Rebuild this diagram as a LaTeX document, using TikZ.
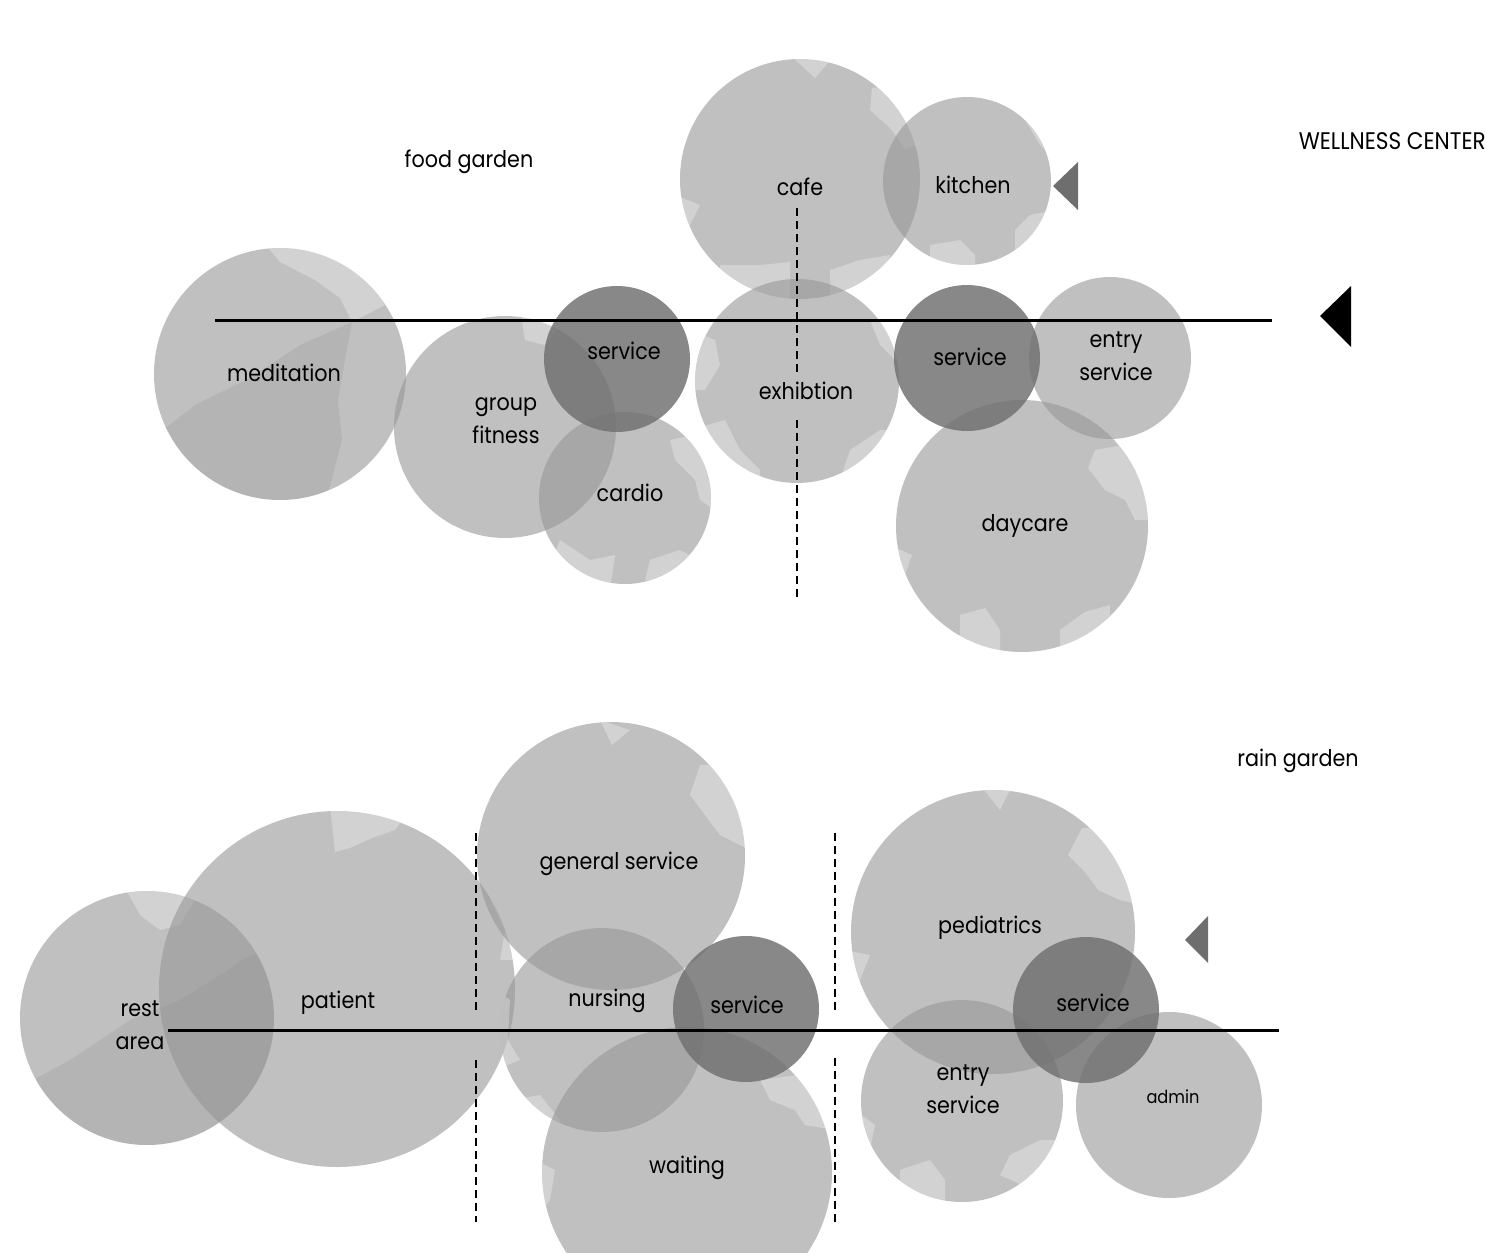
\documentclass[tikz,border=0pt]{standalone}
\usepackage{fontspec}
\setmainfont[FakeStretch=0.9]{Poppins}
\definecolor{roomgrey}{RGB}{150,150,150}
\definecolor{servgrey}{RGB}{112,112,112}
\definecolor{arrowgrey}{RGB}{110,110,110}
\begin{document}
\begin{tikzpicture}[x=1pt,y=-1pt,
  room/.style={circle, fill=roomgrey, fill opacity=0.6, draw=none, inner sep=0pt, minimum size=#1},
  serv/.style={circle, fill=servgrey, fill opacity=0.83, draw=none, inner sep=0pt, minimum size=#1},
  lbl/.style={font=\fontsize{23}{33}\selectfont, text=black, align=center, inner sep=0pt},
  small/.style={font=\fontsize{18}{22}\selectfont, text=black, align=center, inner sep=0pt},
  wall/.style={line width=3pt, black},
  axis/.style={line width=2pt, black, dash pattern=on 8pt off 5pt},
  lite/.style={fill=white, fill opacity=0.28},
  dark/.style={fill=black, fill opacity=0.06}
]
\useasboundingbox (0,0) rectangle (1486,1253);
% ---------------- top: wellness center ----------------
\node[room=252] (med) at (280,374) {};
\begin{scope}
  \clip (280,374) circle[radius=126];
  \fill[lite] (262,240) -- (280,262) -- (315,280) -- (340,298) -- (352,322) -- (385,305) -- (420,300) -- (420,240) -- cycle;
  \fill[dark] (150,440) -- (195,405) -- (250,378) -- (300,345) -- (352,322) -- (345,360) -- (338,400) -- (342,440) -- (325,505) -- (150,505) -- cycle;
\end{scope}
\node[room=222] (grp) at (505,427) {};
\begin{scope}
  \clip (505,427) circle[radius=111];
  \fill[lite] (520,310) -- (525,340) -- (545,345) -- (560,325) -- (560,310) -- cycle;
\end{scope}
\node[room=172] (car) at (625,498) {};
\begin{scope}
  \clip (625,498) circle[radius=86];
  \fill[lite] (670,440) -- (675,460) -- (695,480) -- (700,500) -- (715,510) -- (715,430) -- cycle;
  \fill[lite] (560,540) -- (590,560) -- (615,555) -- (610,590) -- (540,590) -- cycle;
  \fill[lite] (645,580) -- (650,560) -- (680,550) -- (700,560) -- (700,590) -- cycle;
\end{scope}
\node[room=240] (caf) at (800,179) {};
\begin{scope}
  \clip (800,179) circle[radius=121];
  \fill[lite] (790,55) -- (815,78) -- (835,55) -- cycle;
  \fill[lite] (872,88) -- (870,110) -- (892,130) -- (905,150) -- (925,140) -- (925,80) -- cycle;
  \fill[lite] (675,195) -- (700,205) -- (690,225) -- (675,240) -- cycle;
  \fill[lite] (720,265) -- (760,265) -- (790,262) -- (790,310) -- (720,310) -- cycle;
  \fill[lite] (830,270) -- (860,260) -- (890,255) -- (900,310) -- (830,310) -- cycle;
\end{scope}
\node[room=168] (kit) at (967,181) {};
\begin{scope}
  \clip (967,181) circle[radius=84];
  \fill[lite] (1025,120) -- (1040,145) -- (1055,160) -- (1055,110) -- cycle;
  \fill[lite] (1015,230) -- (1030,215) -- (1055,210) -- (1055,270) -- (1015,270) -- cycle;
  \fill[lite] (930,245) -- (960,240) -- (975,255) -- (975,270) -- (930,270) -- cycle;
\end{scope}
\node[room=204] (exh) at (797,381) {};
\begin{scope}
  \clip (797,381) circle[radius=102];
  \fill[lite] (690,330) -- (715,340) -- (720,365) -- (705,390) -- (690,390) -- cycle;
  \fill[lite] (870,320) -- (880,345) -- (895,360) -- (900,320) -- cycle;
  \fill[lite] (690,430) -- (725,420) -- (740,450) -- (760,470) -- (760,490) -- (690,490) -- cycle;
  \fill[lite] (840,480) -- (850,450) -- (880,430) -- (900,430) -- (900,490) -- cycle;
\end{scope}
\node[room=162] (ent) at (1110,358) {};
\node[room=252] (day) at (1022,526) {};
\begin{scope}
  \clip (1022,526) circle[radius=126];
  \fill[lite] (1095,450) -- (1088,468) -- (1105,490) -- (1125,500) -- (1135,520) -- (1150,520) -- (1150,440) -- cycle;
  \fill[lite] (890,545) -- (912,555) -- (905,575) -- (890,580) -- cycle;
  \fill[lite] (960,615) -- (985,608) -- (1000,630) -- (1000,655) -- (960,655) -- cycle;
  \fill[lite] (1060,630) -- (1085,612) -- (1110,605) -- (1110,655) -- (1060,655) -- cycle;
\end{scope}
\node[serv=146] (sv1) at (617,359) {};
\node[serv=146] (sv2) at (967,358) {};

\coordinate (tl) at (215,320);
\coordinate (tr) at (1272,320);
\draw[wall] (tl) -- (tr);
\coordinate (d1a) at (797,208);
\coordinate (d1b) at (797,374);
\coordinate (d1c) at (797,420);
\coordinate (d1d) at (797,600);
\draw[axis] (d1a) -- (d1b);
\draw[axis] (d1c) -- (d1d);

\fill[black] (1320,316) -- (1351,286) -- (1351,347) -- cycle;
\fill[arrowgrey] (1053,186) -- (1078,162) -- (1078,210) -- cycle;

\node[lbl] (lmed) at (284,373) {meditation};
\node[lbl] (lgrp) at (506,421) {group\\fitness};
\node[lbl] (lsv1) at (624,351) {service};
\node[lbl] (lcar) at (630,493) {cardio};
\node[lbl] (lcaf) at (800,187) {cafe};
\node[lbl] (lkit) at (973,185) {kitchen};
\node[lbl] (lexh) at (806,391) {exhibtion};
\node[lbl] (lsv2) at (970,357) {service};
\node[lbl] (lent) at (1116,356) {entry\\service};
\node[lbl] (lday) at (1025,526) {daycare};
\node[lbl] (food) at (469,162) {food garden};
\node[lbl, font=\fontsize{24}{28}\selectfont, anchor=east] (well) at (1486,141) {WELLNESS CENTER};

% ---------------- bottom ----------------
\node[room=254] (rst) at (147,1018) {};
\begin{scope}
  \clip (147,1018) circle[radius=127];
  \fill[lite] (125,888) -- (140,915) -- (160,930) -- (180,925) -- (195,900) -- (195,888) -- cycle;
  \fill[dark] (15,1090) -- (70,1060) -- (130,1020) -- (180,1000) -- (220,975) -- (250,955) -- (280,950) -- (280,1150) -- (15,1150) -- cycle;
\end{scope}
\node[room=356] (pat) at (337,989) {};
\begin{scope}
  \clip (337,989) circle[radius=178];
  \fill[lite] (330,805) -- (335,852) -- (350,848) -- (372,838) -- (395,830) -- (410,810) -- cycle;
  \fill[lite] (490,900) -- (505,930) -- (500,960) -- (520,960) -- (520,900) -- cycle;
\end{scope}
\node[room=268] (gen) at (611,856) {};
\begin{scope}
  \clip (611,856) circle[radius=134];
  \fill[lite] (600,720) -- (612,745) -- (630,730) -- cycle;
  \fill[lite] (700,765) -- (690,795) -- (705,815) -- (720,835) -- (740,845) -- (750,850) -- (750,765) -- cycle;
  \fill[lite] (470,790) -- (490,800) -- (480,820) -- (470,825) -- cycle;
\end{scope}
\node[room=204] (nur) at (602,1030) {};
\begin{scope}
  \clip (602,1030) circle[radius=102];
  \fill[lite] (495,990) -- (510,1000) -- (508,1040) -- (520,1060) -- (495,1070) -- cycle;
  \fill[lite] (510,1100) -- (540,1095) -- (560,1120) -- (560,1140) -- (510,1140) -- cycle;
\end{scope}
\node[room=290] (wai) at (687,1172) {};
\begin{scope}
  \clip (687,1172) circle[radius=145];
  \fill[lite] (760,1080) -- (770,1100) -- (795,1110) -- (805,1125) -- (835,1130) -- (835,1070) -- cycle;
  \fill[lite] (535,1160) -- (555,1170) -- (550,1200) -- (535,1220) -- cycle;
\end{scope}
\node[room=284] (ped) at (993,932) {};
\begin{scope}
  \clip (993,932) circle[radius=142];
  \fill[lite] (1082,828) -- (1068,855) -- (1085,872) -- (1098,890) -- (1120,900) -- (1140,905) -- (1140,828) -- cycle;
  \fill[lite] (980,785) -- (1000,810) -- (1010,790) -- cycle;
  \fill[lite] (845,950) -- (870,955) -- (860,980) -- (845,995) -- cycle;
\end{scope}
\node[room=202] (en2) at (962,1101) {};
\begin{scope}
  \clip (962,1101) circle[radius=101];
  \fill[lite] (900,1170) -- (930,1160) -- (945,1180) -- (945,1205) -- (900,1205) -- cycle;
  \fill[lite] (1000,1175) -- (1010,1155) -- (1040,1140) -- (1065,1140) -- (1065,1205) -- cycle;
  \fill[lite] (855,1110) -- (875,1125) -- (870,1150) -- (855,1150) -- cycle;
\end{scope}
\node[room=186] (adm) at (1169,1105) {};
\node[serv=146] (sv3) at (746,1009) {};
\node[serv=146] (sv4) at (1086,1010) {};

\coordinate (bl) at (168,1030);
\coordinate (br) at (1279,1030);
\draw[wall] (bl) -- (br);
\coordinate (d2a) at (476,833);
\coordinate (d2b) at (476,1010);
\coordinate (d2c) at (476,1060);
\coordinate (d2d) at (476,1222);
\coordinate (d3a) at (835,833);
\coordinate (d3b) at (835,1010);
\coordinate (d3c) at (835,1058);
\coordinate (d3d) at (835,1222);
\draw[axis] (d2a) -- (d2b);
\draw[axis] (d2c) -- (d2d);
\draw[axis] (d3a) -- (d3b);
\draw[axis] (d3c) -- (d3d);

\fill[arrowgrey] (1185,940) -- (1208,916) -- (1208,963) -- cycle;

\node[lbl] (lrst) at (140,1025) {rest\\area};
\node[lbl] (lpat) at (338,1003) {patient};
\node[lbl] (lgen) at (619,864) {general service};
\node[lbl] (lnur) at (607,1001) {nursing};
\node[lbl] (lsv3) at (747,1005) {service};
\node[lbl] (lwai) at (687,1168) {waiting};
\node[lbl] (lped) at (990,928) {pediatrics};
\node[lbl] (lsv4) at (1093,1003) {service};
\node[lbl] (len2) at (963,1089) {entry\\service};
\node[small] (ladm) at (1173,1097) {admin};
\node[lbl] (rain) at (1298,761) {rain garden};
\end{tikzpicture}
\end{document}
